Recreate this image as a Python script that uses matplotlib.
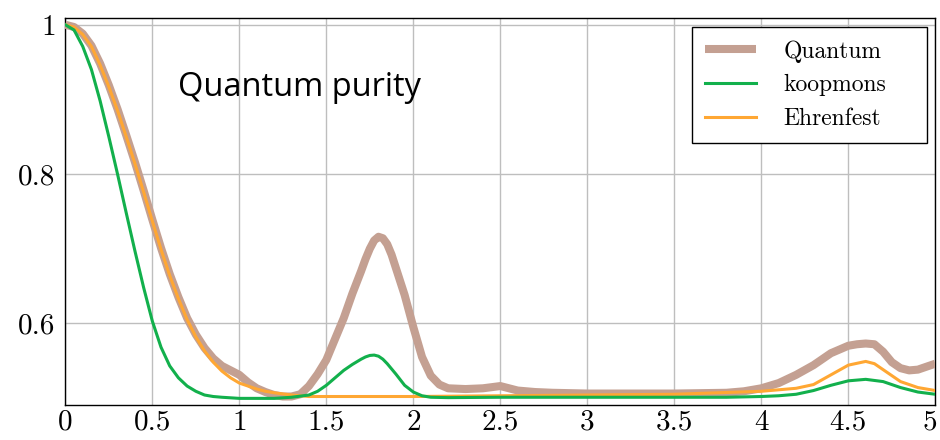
import matplotlib
matplotlib.use("Agg")
import matplotlib.pyplot as plt
from matplotlib.transforms import ScaledTranslation

# ---- data ----
q_x = [0.0, 0.05, 0.1, 0.15, 0.2, 0.25, 0.3, 0.35, 0.4, 0.45, 0.5, 0.55, 0.6, 0.65, 0.7, 0.75, 0.8, 0.85, 0.9, 0.95,
       1.0, 1.05, 1.1, 1.15, 1.2, 1.25, 1.3, 1.35, 1.4, 1.45, 1.5, 1.55, 1.6, 1.65, 1.7, 1.725, 1.75, 1.775, 1.8, 1.825,
       1.85, 1.875, 1.9, 1.95, 2.0, 2.05, 2.1, 2.15, 2.2, 2.3, 2.4, 2.5, 2.6, 2.7, 2.8, 3.0, 3.5, 3.8, 3.9, 4.0,
       4.1, 4.2, 4.3, 4.4, 4.5, 4.55, 4.6, 4.65, 4.7, 4.75, 4.8, 4.85, 4.9, 4.95, 5.0]
q_y = [1.000, 0.997, 0.988, 0.972, 0.948, 0.919, 0.887, 0.852, 0.816, 0.778, 0.739, 0.701, 0.666, 0.635, 0.607, 0.585, 0.567, 0.553, 0.543, 0.537,
       0.531, 0.521, 0.513, 0.508, 0.504, 0.502, 0.502, 0.505, 0.516, 0.532, 0.551, 0.579, 0.607, 0.640, 0.670, 0.686, 0.700, 0.711, 0.716, 0.714,
       0.706, 0.692, 0.674, 0.638, 0.595, 0.555, 0.530, 0.518, 0.513, 0.512, 0.513, 0.516, 0.510, 0.508, 0.507, 0.506, 0.506, 0.507, 0.509, 0.513,
       0.520, 0.531, 0.544, 0.560, 0.570, 0.572, 0.573, 0.572, 0.562, 0.548, 0.540, 0.537, 0.538, 0.542, 0.546]

k_x = [0.0, 0.05, 0.1, 0.15, 0.2, 0.25, 0.3, 0.35, 0.4, 0.45, 0.5, 0.55, 0.6, 0.65, 0.7, 0.75, 0.8, 0.85, 0.9, 1.0,
       1.2, 1.3, 1.4, 1.45, 1.5, 1.55, 1.6, 1.65, 1.7, 1.725, 1.75, 1.775, 1.8, 1.825, 1.85, 1.9, 1.95, 2.0, 2.05, 2.1,
       2.2, 2.5, 3.0, 3.5, 3.8, 4.0, 4.1, 4.2, 4.3, 4.4, 4.5, 4.6, 4.7, 4.8, 4.9, 5.0]
k_y = [1.000, 0.993, 0.971, 0.940, 0.898, 0.850, 0.800, 0.748, 0.697, 0.648, 0.603, 0.568, 0.543, 0.527, 0.516, 0.509, 0.504, 0.502, 0.501, 0.4995,
       0.4995, 0.501, 0.504, 0.509, 0.517, 0.527, 0.537, 0.545, 0.552, 0.555, 0.557, 0.5575, 0.556, 0.552, 0.546, 0.532, 0.517, 0.508, 0.503, 0.501,
       0.5005, 0.501, 0.501, 0.501, 0.501, 0.502, 0.503, 0.505, 0.510, 0.517, 0.523, 0.525, 0.522, 0.514, 0.508, 0.505]

e_x = [0.0, 0.05, 0.1, 0.15, 0.2, 0.25, 0.3, 0.35, 0.4, 0.45, 0.5, 0.55, 0.6, 0.65, 0.7, 0.75, 0.8, 0.85, 0.9, 0.95,
       1.0, 1.05, 1.1, 1.15, 1.2, 1.3, 1.4, 2.0, 2.5, 3.0, 3.5, 4.0, 4.2, 4.3, 4.4, 4.5, 4.6, 4.65, 4.7, 4.8, 4.9, 5.0]
e_y = [1.000, 0.997, 0.987, 0.971, 0.946, 0.917, 0.885, 0.850, 0.814, 0.776, 0.737, 0.699, 0.664, 0.633, 0.605, 0.582, 0.563, 0.548, 0.536, 0.527,
       0.520, 0.516, 0.512, 0.509, 0.507, 0.504, 0.502, 0.502, 0.503, 0.504, 0.505, 0.509, 0.513, 0.518, 0.531, 0.544, 0.549, 0.546, 0.538, 0.522, 0.514, 0.510]

labels = ["Quantum", "koopmons", "Ehrenfest"]
x_ticks = [0, 0.5, 1, 1.5, 2, 2.5, 3, 3.5, 4, 4.5, 5]
x_tick_labels = ["0", "0.5", "1", "1.5", "2", "2.5", "3", "3.5", "4", "4.5", "5"]
y_ticks = [0.6, 0.8, 1.0]
y_tick_labels = ["0.6", "0.8", "1"]
title_text = "Quantum purity"

plt.rcParams["font.family"] = ["cmr10", "DejaVu Serif"]
plt.rcParams["axes.formatter.use_mathtext"] = True

fig = plt.figure(figsize=(9.4, 4.4), dpi=100)
ax = fig.add_axes([0.0695, 0.0795, 0.9255, 0.8795])

ax.plot(q_x, q_y, color="#C4A092", lw=5.8, label=labels[0],
        solid_capstyle="butt", solid_joinstyle="round", zorder=3)
ax.plot(k_x, k_y, color="#12B04C", lw=2.2, label=labels[1],
        solid_joinstyle="round", zorder=4)
ax.plot(e_x, e_y, color="#FFA733", lw=2.2, label=labels[2],
        solid_joinstyle="round", zorder=3.5)

ax.set_xlim(0, 5)
ax.set_ylim(0.4906, 1.009)
ax.set_xticks(x_ticks)
ax.set_xticklabels(x_tick_labels)
ax.set_yticks(y_ticks)
ax.set_yticklabels(y_tick_labels)
ax.tick_params(axis="y", length=0, labelsize=21, pad=7)
ax.tick_params(axis="x", length=0, labelsize=21, pad=3)
ax.grid(True, color="#BEBEBE", lw=1.0)
ax.set_axisbelow(True)
for s in ax.spines.values():
    s.set_color("black")
    s.set_linewidth(1.0)

# keep the last x label inside the canvas
last = ax.get_xticklabels()[-1]
last.set_transform(last.get_transform() + ScaledTranslation(-5 / 100, 0, fig.dpi_scale_trans))

ax.text(0.129, 0.82, title_text, transform=ax.transAxes, fontsize=23.5,
        family=["Open Sans", "DejaVu Sans"], ha="left", va="center")

leg = ax.legend(loc="upper left", bbox_to_anchor=(0.7207, 0.672, 0.270, 0.3047),
                mode="expand", fontsize=17, frameon=True, fancybox=False,
                edgecolor="black", framealpha=1, handlelength=2.15,
                handletextpad=1.15, labelspacing=0.5, borderpad=0.55,
                borderaxespad=0.0)
leg.get_frame().set_linewidth(1.0)

fig.savefig("out.png", dpi=100)
